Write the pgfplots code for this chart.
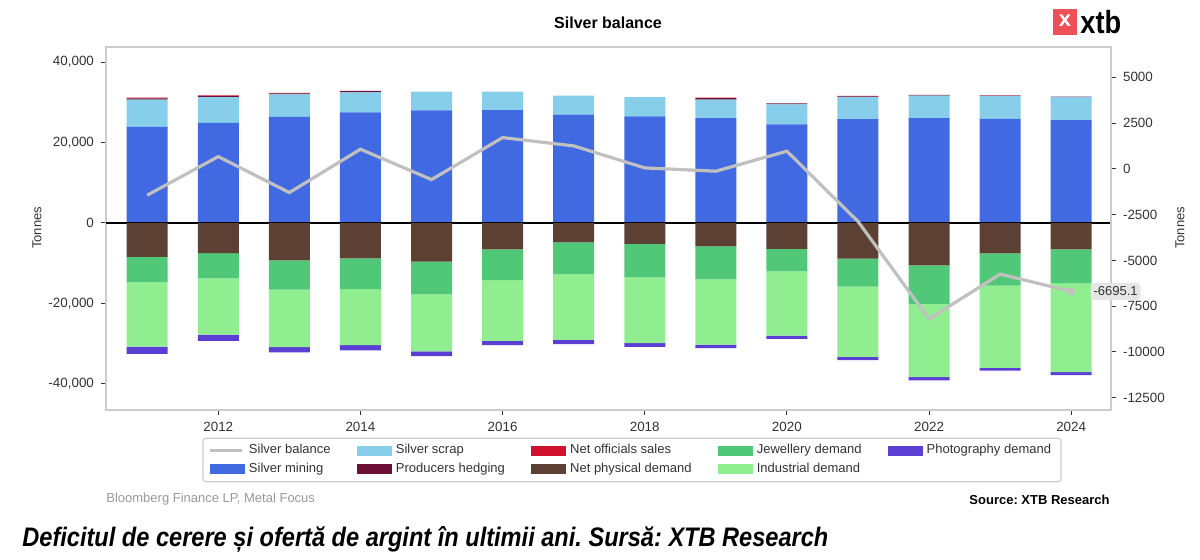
\documentclass[border=0pt]{standalone}
\usepackage{pgfplots}
\pgfplotsset{compat=1.18}
\usepackage{pgfplotstable}
\usepackage{fontspec}
\setmainfont{Liberation Sans}
\usepackage{graphicx}
\frenchspacing

\definecolor{mining}{HTML}{4169E1}
\definecolor{scrap}{HTML}{87CEEB}
\definecolor{hedging}{HTML}{6E0F35}
\definecolor{officials}{HTML}{D0102E}
\definecolor{physical}{HTML}{5C4033}
\definecolor{jewel}{HTML}{50C878}
\definecolor{industrial}{HTML}{90EE90}
\definecolor{photo}{HTML}{5B3FD4}
\definecolor{balance}{HTML}{C0C0C0}
\definecolor{frame}{HTML}{CCCCCC}
\definecolor{ticktext}{HTML}{333333}
\definecolor{xtbred}{HTML}{EE5058}
\definecolor{labelgray}{HTML}{E6E6E6}
\definecolor{srcgray}{HTML}{999999}

\pgfplotstableread{
year mining scrap hedging officials
2011 23850 6770 350 150
2012 24840 6450 250 150
2013 26330 5640 250 100
2014 27500 4970 300 80
2015 27950 4710 0 0
2016 28030 4640 0 0
2017 26910 4720 0 0
2018 26460 4790 0 0
2019 26040 4640 350 120
2020 24480 4960 300 0
2021 25800 5460 200 100
2022 26040 5630 150 0
2023 25870 5630 150 80
2024 25550 5700 150 0
}\supply

\pgfplotstableread{
year physical jewel industrial photo
2011 -8430 -6370 -15950 -1820
2012 -7520 -6290 -13970 -1570
2013 -9340 -7280 -14300 -1320
2014 -8850 -7600 -13980 -1310
2015 -9670 -8110 -14210 -1160
2016 -6610 -7610 -15130 -1080
2017 -4880 -7930 -16290 -1080
2018 -5210 -8350 -16370 -910
2019 -5870 -8180 -16210 -910
2020 -6450 -5620 -15950 -830
2021 -8900 -6950 -17470 -830
2022 -10550 -9600 -18220 -820
2023 -7610 -8010 -20420 -740
2024 -6610 -8350 -22170 -740
}\demand

\pgfplotstableread{
year balance
2011 -1436
2012 672
2013 -1294
2014 1075
2015 -584
2016 1709
2017 1256
2018 55
2019 -126
2020 966
2021 -2870
2022 -8200
2023 -5748
2024 -6695.1
}\bal

\pgfplotsset{
  common/.style={
    at={(53pt,75pt)}, anchor=south west,
    scale only axis, width=502.5pt, height=181.5pt,
    xmin=2010.42, xmax=2024.56, enlargelimits=false,
    /pgf/number format/assume math mode=true,
    tick align=outside, major tick length=2.5pt,
    tick style={ticktext, line width=0.5pt},
    ticklabel style={font=\fontsize{6.7}{8}\selectfont, text=ticktext},
    scaled ticks=false,
  },
  patch/.style={legend image code/.code={\fill[#1, sharp corners] (0pt,-2.3pt) rectangle (17pt,2.3pt);}},
}

\begin{document}
\begin{tikzpicture}[x=1pt,y=1pt]
\useasboundingbox (0,0) rectangle (600,280);

% supply (positive stack) with frame and left axis
\begin{axis}[common,
  ymin=-46540, ymax=43740,
  ybar stacked, bar width=20.5pt,
  axis line style={frame, line width=0.75pt},
  xtick={2012,2014,...,2024}, ytick={-40000,-20000,0,20000,40000},
  xtick pos=bottom, ytick pos=left,
  yticklabel style={/pgf/number format/1000 sep={,}},
  xticklabel style={/pgf/number format/1000 sep={}},
]
\addplot[fill=mining, draw=none] table[x=year,y=mining]{\supply};
\addplot[fill=scrap, draw=none] table[x=year,y=scrap]{\supply};
\addplot[fill=hedging, draw=none] table[x=year,y=hedging]{\supply};
\addplot[fill=officials, draw=none] table[x=year,y=officials]{\supply};
\end{axis}

% demand (negative stack)
\begin{axis}[common, hide axis,
  ymin=-46540, ymax=43740,
  ybar stacked, bar width=20.5pt,
]
\addplot[fill=physical, draw=none] table[x=year,y=physical]{\demand};
\addplot[fill=jewel, draw=none] table[x=year,y=jewel]{\demand};
\addplot[fill=industrial, draw=none] table[x=year,y=industrial]{\demand};
\addplot[fill=photo, draw=none] table[x=year,y=photo]{\demand};
\draw[black, line width=0.7pt] (axis cs:2010.42,0) -- (axis cs:2024.56,0);
\end{axis}

% balance (right axis)
\begin{axis}[common, clip=false,
  ymin=-13173, ymax=6660,
  axis x line=none, axis y line*=right,
  axis line style={frame, line width=0.75pt},
  ytick={-12500,-10000,-7500,-5000,-2500,0,2500,5000},
  yticklabel style={/pgf/number format/1000 sep={}},
  legend columns=5,
  legend cell align=left,
  legend style={at={(0.5234,-0.1377)}, anchor=center,
    draw=frame, rounded corners=1.5pt, line width=0.6pt,
    font=\fontsize{6.5}{8}\selectfont, text=ticktext,
    /tikz/every even column/.append style={column sep=11pt},
    inner xsep=3pt, inner ysep=1.2pt, row sep=-1pt},
]
\addlegendimage{legend image code/.code={\draw[balance, line width=1.4pt, sharp corners] (0pt,0pt) -- (16pt,0pt);}}
\addlegendimage{patch=scrap}
\addlegendimage{patch=officials}
\addlegendimage{patch=jewel}
\addlegendimage{patch=photo}
\addlegendimage{patch=mining}
\addlegendimage{patch=hedging}
\addlegendimage{patch=physical}
\addlegendimage{patch=industrial}
\addplot[balance, line width=1.6pt, forget plot] table[x=year,y=balance]{\bal};
\addplot[only marks, mark=*, mark size=1.8pt, balance, forget plot] coordinates {(2024,-6695.1)};
\node[fill=labelgray, rounded corners=2pt, anchor=west, font=\fontsize{6.5}{8}\selectfont,
  text=ticktext, inner xsep=1.5pt, inner ysep=2pt] at (axis cs:2024,-6695.1) [xshift=9.5pt] {-6695.1};
\legend{Silver balance, Silver scrap, Net officials sales, Jewellery demand, Photography demand,
  Silver mining, Producers hedging, Net physical demand, Industrial demand}
\end{axis}

% titles and texts
\node[font=\bfseries\fontsize{8}{10}\selectfont] at (304,268.5) {Silver balance};
\fill[xtbred] (526.5,262.5) rectangle (538.5,275.5);
\node[text=white, font=\bfseries\fontsize{11}{11}\selectfont, inner sep=0] at (532.5,269.5) {x};
\node[anchor=west, inner sep=0] at (540,269) {\scalebox{0.85}[1]{\fontsize{16}{16}\selectfont\bfseries xtb}};

\node[rotate=90, font=\fontsize{6.5}{8}\selectfont, text=ticktext] at (18.5,166) {Tonnes};
\node[rotate=90, font=\fontsize{6.5}{8}\selectfont, text=ticktext] at (590,166) {Tonnes};

\node[anchor=west, text=srcgray, font=\fontsize{6.5}{8}\selectfont, inner sep=0] at (53,30.5) {Bloomberg Finance LP, Metal Focus};
\node[anchor=east, font=\bfseries\fontsize{6.5}{8}\selectfont, inner sep=0] at (555,30) {Source: XTB Research};
\node[anchor=base west, inner sep=0] at (11,6.5) {\resizebox{403pt}{10pt}{\bfseries\itshape Deficitul de cerere și ofertă de argint în ultimii ani. Sursă: XTB Research}};
\end{tikzpicture}
\end{document}
